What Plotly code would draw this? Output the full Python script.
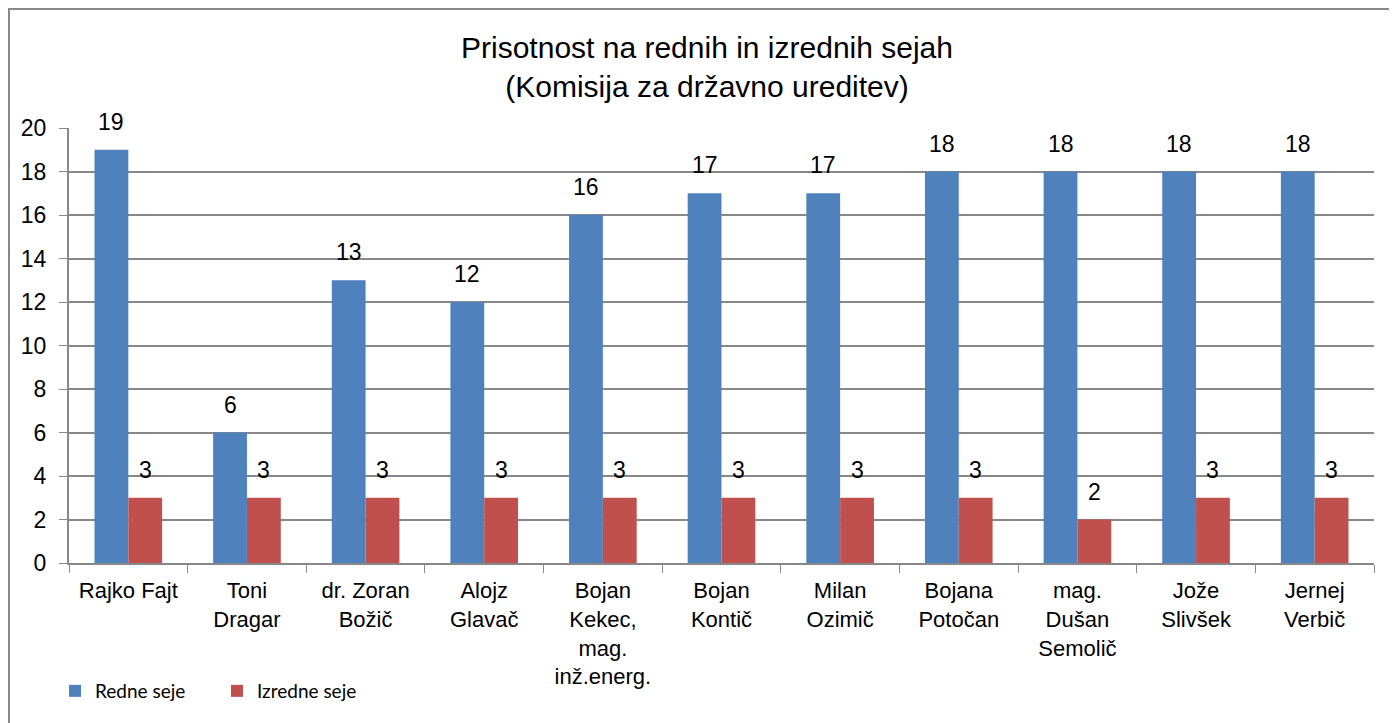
import plotly.graph_objects as go

categories = ["Rajko Fajt", "Toni<br>Dragar", "dr. Zoran<br>Božič", "Alojz<br>Glavač",
              "Bojan<br>Kekec,<br>mag.<br>inž.energ.", "Bojan<br>Kontič", "Milan<br>Ozimič",
              "Bojana<br>Potočan", "mag.<br>Dušan<br>Semolič", "Jože<br>Slivšek", "Jernej<br>Verbič"]
redne = [19, 6, 13, 12, 16, 17, 17, 18, 18, 18, 18]
izredne = [3, 3, 3, 3, 3, 3, 3, 3, 2, 3, 3]
y_ticks = [0, 2, 4, 6, 8, 10, 12, 14, 16, 18, 20]

# page body has an 8px margin; figure coordinates = screen - 8
OFF = 8
W, H = 1397 - OFF, 723 - OFF
L, R, T, B = 69 - OFF, 1374 - OFF, 128 - OFF, 563 - OFF

FONT = "Liberation Sans, Arial, sans-serif"
BARGAP = 0.43
bar_px = (R - L) / len(categories) * (1 - BARGAP) / 2

fig = go.Figure()
fig.add_trace(go.Bar(name="Redne seje", x=categories, y=redne, marker_color="#4F81BD",
                     marker_line_width=0))
fig.add_trace(go.Bar(name="Izredne seje", x=categories, y=izredne, marker_color="#C0504D",
                     marker_line_width=0))

for cat, v in zip(categories, redne):
    fig.add_annotation(x=cat, y=v, xref="x", yref="y", text=str(v), showarrow=False,
                       xanchor="center", yanchor="bottom", xshift=-bar_px / 2, yshift=13,
                       font=dict(family=FONT, size=23, color="#000000"))
for cat, v in zip(categories, izredne):
    fig.add_annotation(x=cat, y=v, xref="x", yref="y", text=str(v), showarrow=False,
                       xanchor="center", yanchor="bottom", xshift=bar_px / 2, yshift=13,
                       font=dict(family=FONT, size=23, color="#000000"))

fig.update_layout(
    width=W, height=H,
    margin=dict(l=L, r=W - R, t=T, b=H - B, pad=0),
    paper_bgcolor="white", plot_bgcolor="white",
    barmode="group", bargap=BARGAP, bargroupgap=0,
    title=dict(text="Prisotnost na rednih in izrednih sejah<br>(Komisija za državno ureditev)",
               x=(707 - OFF) / W, xanchor="center", y=1 - 50 / H, yanchor="top",
               font=dict(family=FONT, size=30, color="#000000")),
    legend=dict(orientation="h", x=(55 - L - OFF) / (R - L), xanchor="left",
                y=-(691 - 563) / (B - T), yanchor="middle",
                font=dict(family="Lato, sans-serif", size=19, color="#000000"),
                itemwidth=30, traceorder="normal",
                entrywidth=117, entrywidthmode="pixels"),
    showlegend=True,
)
fig.update_xaxes(showline=True, linecolor="#888888", linewidth=2,
                 ticks="outside", tickson="boundaries", ticklen=8, tickcolor="#888888",
                 ticklabelstandoff=7,
                 tickfont=dict(family=FONT, size=22, color="#000000"),
                 showgrid=False)
fig.update_yaxes(range=[0, 20], tickvals=y_ticks, showline=True, linecolor="#888888", linewidth=2,
                 ticks="outside", ticklen=8, tickcolor="#888888", ticklabelstandoff=8,
                 showgrid=True, gridcolor="#888888", gridwidth=1.5,
                 tickfont=dict(family=FONT, size=23, color="#000000"),
                 zeroline=False)

fig.add_shape(type="rect", xref="paper", yref="paper",
              x0=(1 - L) / (R - L), x1=(W + 20 - L) / (R - L),
              y0=-(H + 20 - B) / (B - T), y1=(B - 1) / (B - T),
              line=dict(color="#888888", width=2), layer="below")

fig.write_html("out.html")
